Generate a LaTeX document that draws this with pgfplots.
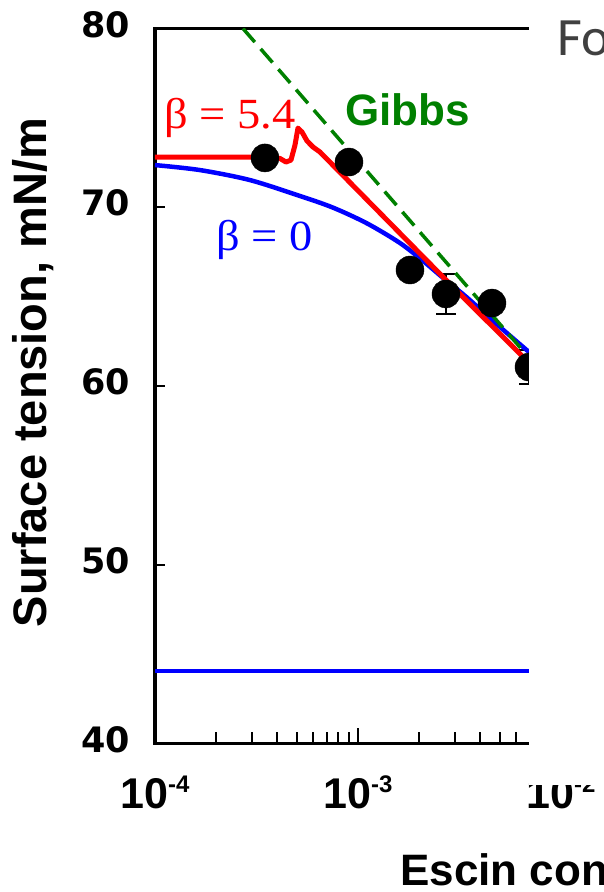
\documentclass[border=0pt]{standalone}
\usepackage{fontspec}
\setmainfont{Liberation Sans}
\newfontfamily\serifrm{Liberation Serif}
\newfontfamily\dejavu{DejaVu Sans}
\newfontfamily\carlito{Carlito}
\usepackage{pgfplots}
\pgfplotsset{compat=1.18}

\definecolor{gibbsgreen}{RGB}{0,128,0}
\newcommand\sups[1]{\raisebox{16pt}{\fontsize{24}{24}\selectfont #1}}

\begin{document}
\begin{tikzpicture}
\begin{axis}[
    at={(155pt,-743.5pt)}, anchor=south west,
    scale only axis, width=406pt, height=715pt,
    xmode=log, xmin=1e-4, xmax=1e-2,
    ymin=40, ymax=80,
    axis line style={line width=3.5pt},
    tick align=inside, tick pos=left,
    major tick length=16pt, minor tick length=12pt,
    every tick/.style={black, line width=2pt},
    xtick={1e-4,1e-3,1e-2},
    xticklabels={10\sups{-4},10\sups{-3},10\sups{-2}},
    minor xtick={2e-4,3e-4,4e-4,5e-4,6e-4,7e-4,8e-4,9e-4,2e-3,3e-3,4e-3,5e-3,6e-3,7e-3,8e-3,9e-3},
    xticklabel style={font=\fontsize{43}{48}\selectfont\bfseries, anchor=base, yshift=-65pt},
    ytick={40,80},
    yticklabels={40,80},
    extra y ticks={50,60,70},
    extra y tick labels={50,60,70},
    extra y tick style={major tick length=10pt},
    yticklabel style={font=\fontsize{35}{40}\selectfont\dejavu\bfseries, anchor=east, inner sep=0pt, xshift=-25pt, yshift=4pt},
]
% measured points
\addplot[only marks, mark=*, mark size=14pt, black,
    error bars/.cd, y dir=both, y explicit,
    error bar style={line width=2pt, black},
    error mark options={rotate=90, mark size=10pt, line width=2pt, black}]
    coordinates {
    (3.482e-4,72.76) +- (0,0)
    (9.03e-4,72.53) +- (0,0)
    (1.804e-3,66.49) +- (0,0)
    (2.713e-3,65.15) +- (0,1.12)
    (4.572e-3,64.64) +- (0,0)
    (6.956e-3,61.06) +- (0,0.95)
    };
% beta = 0
\addplot[blue, line width=4.5pt, smooth] coordinates {
    (1.000e-4,72.36)(1.666e-4,72.08)(2.938e-4,71.52)(5.179e-4,70.63)
    (7.530e-4,69.98)(1.107e-3,69.10)(1.610e-3,68.00)(2.090e-3,67.00)
    (2.623e-3,66.05)(3.442e-3,64.95)(5.005e-3,63.30)(6.956e-3,61.90)
    };
\addplot[blue, line width=4pt] coordinates {(1e-4,44.06)(1e-2,44.06)};
% beta = 5.4
\addplot[red, line width=5pt, line join=round] coordinates {
    (1.000e-4,72.81)(3.814e-4,72.81)(4.128e-4,72.73)(4.418e-4,72.53)
    (4.677e-4,72.64)(4.894e-4,73.48)(5.062e-4,74.43)(5.298e-4,74.21)
    (5.609e-4,73.71)(6.003e-4,73.37)(6.499e-4,73.09)(2.623e-3,66.10)
    (6.956e-3,61.29)
    };
% Gibbs
\addplot[gibbsgreen, line width=3.5pt, dash pattern=on 18pt off 9pt] coordinates {
    (2.713e-4,80)(6.956e-3,61.59)
    };
\end{axis}

\node[anchor=base west, inner sep=0pt, red, font=\fontsize{43}{46}\selectfont\serifrm]
    at (164pt,-128pt) {\scalebox{1.08}[1]{β = 5.4}};
\node[anchor=base west, inner sep=0pt, blue, font=\fontsize{43}{46}\selectfont\serifrm]
    at (216pt,-250pt) {\scalebox{1.08}[1]{β = 0}};
\node[anchor=base west, inner sep=0pt, gibbsgreen, font=\fontsize{44}{48}\selectfont\bfseries]
    at (345pt,-125pt) {Gibbs};
\node[rotate=90, anchor=base, inner sep=0pt, font=\fontsize{47}{50}\selectfont\bfseries]
    at (46pt,-372.5pt) {Surface tension, mN/m};

% right-hand panel that overlaps the chart
\fill[white] (528.5pt,2pt) rectangle (606pt,-785pt);
\node[anchor=base west, inner sep=0pt, black!75, font=\fontsize{54}{58}\selectfont\carlito]
    at (557pt,-55pt) {Fo};
\node[anchor=base west, inner sep=0pt, font=\fontsize{44}{48}\selectfont\bfseries]
    at (400pt,-885pt) {Escin concentration, M};

\pgfresetboundingbox
\path[use as bounding box] (0pt,0pt) rectangle (603pt,-892pt);
\end{tikzpicture}
\end{document}
